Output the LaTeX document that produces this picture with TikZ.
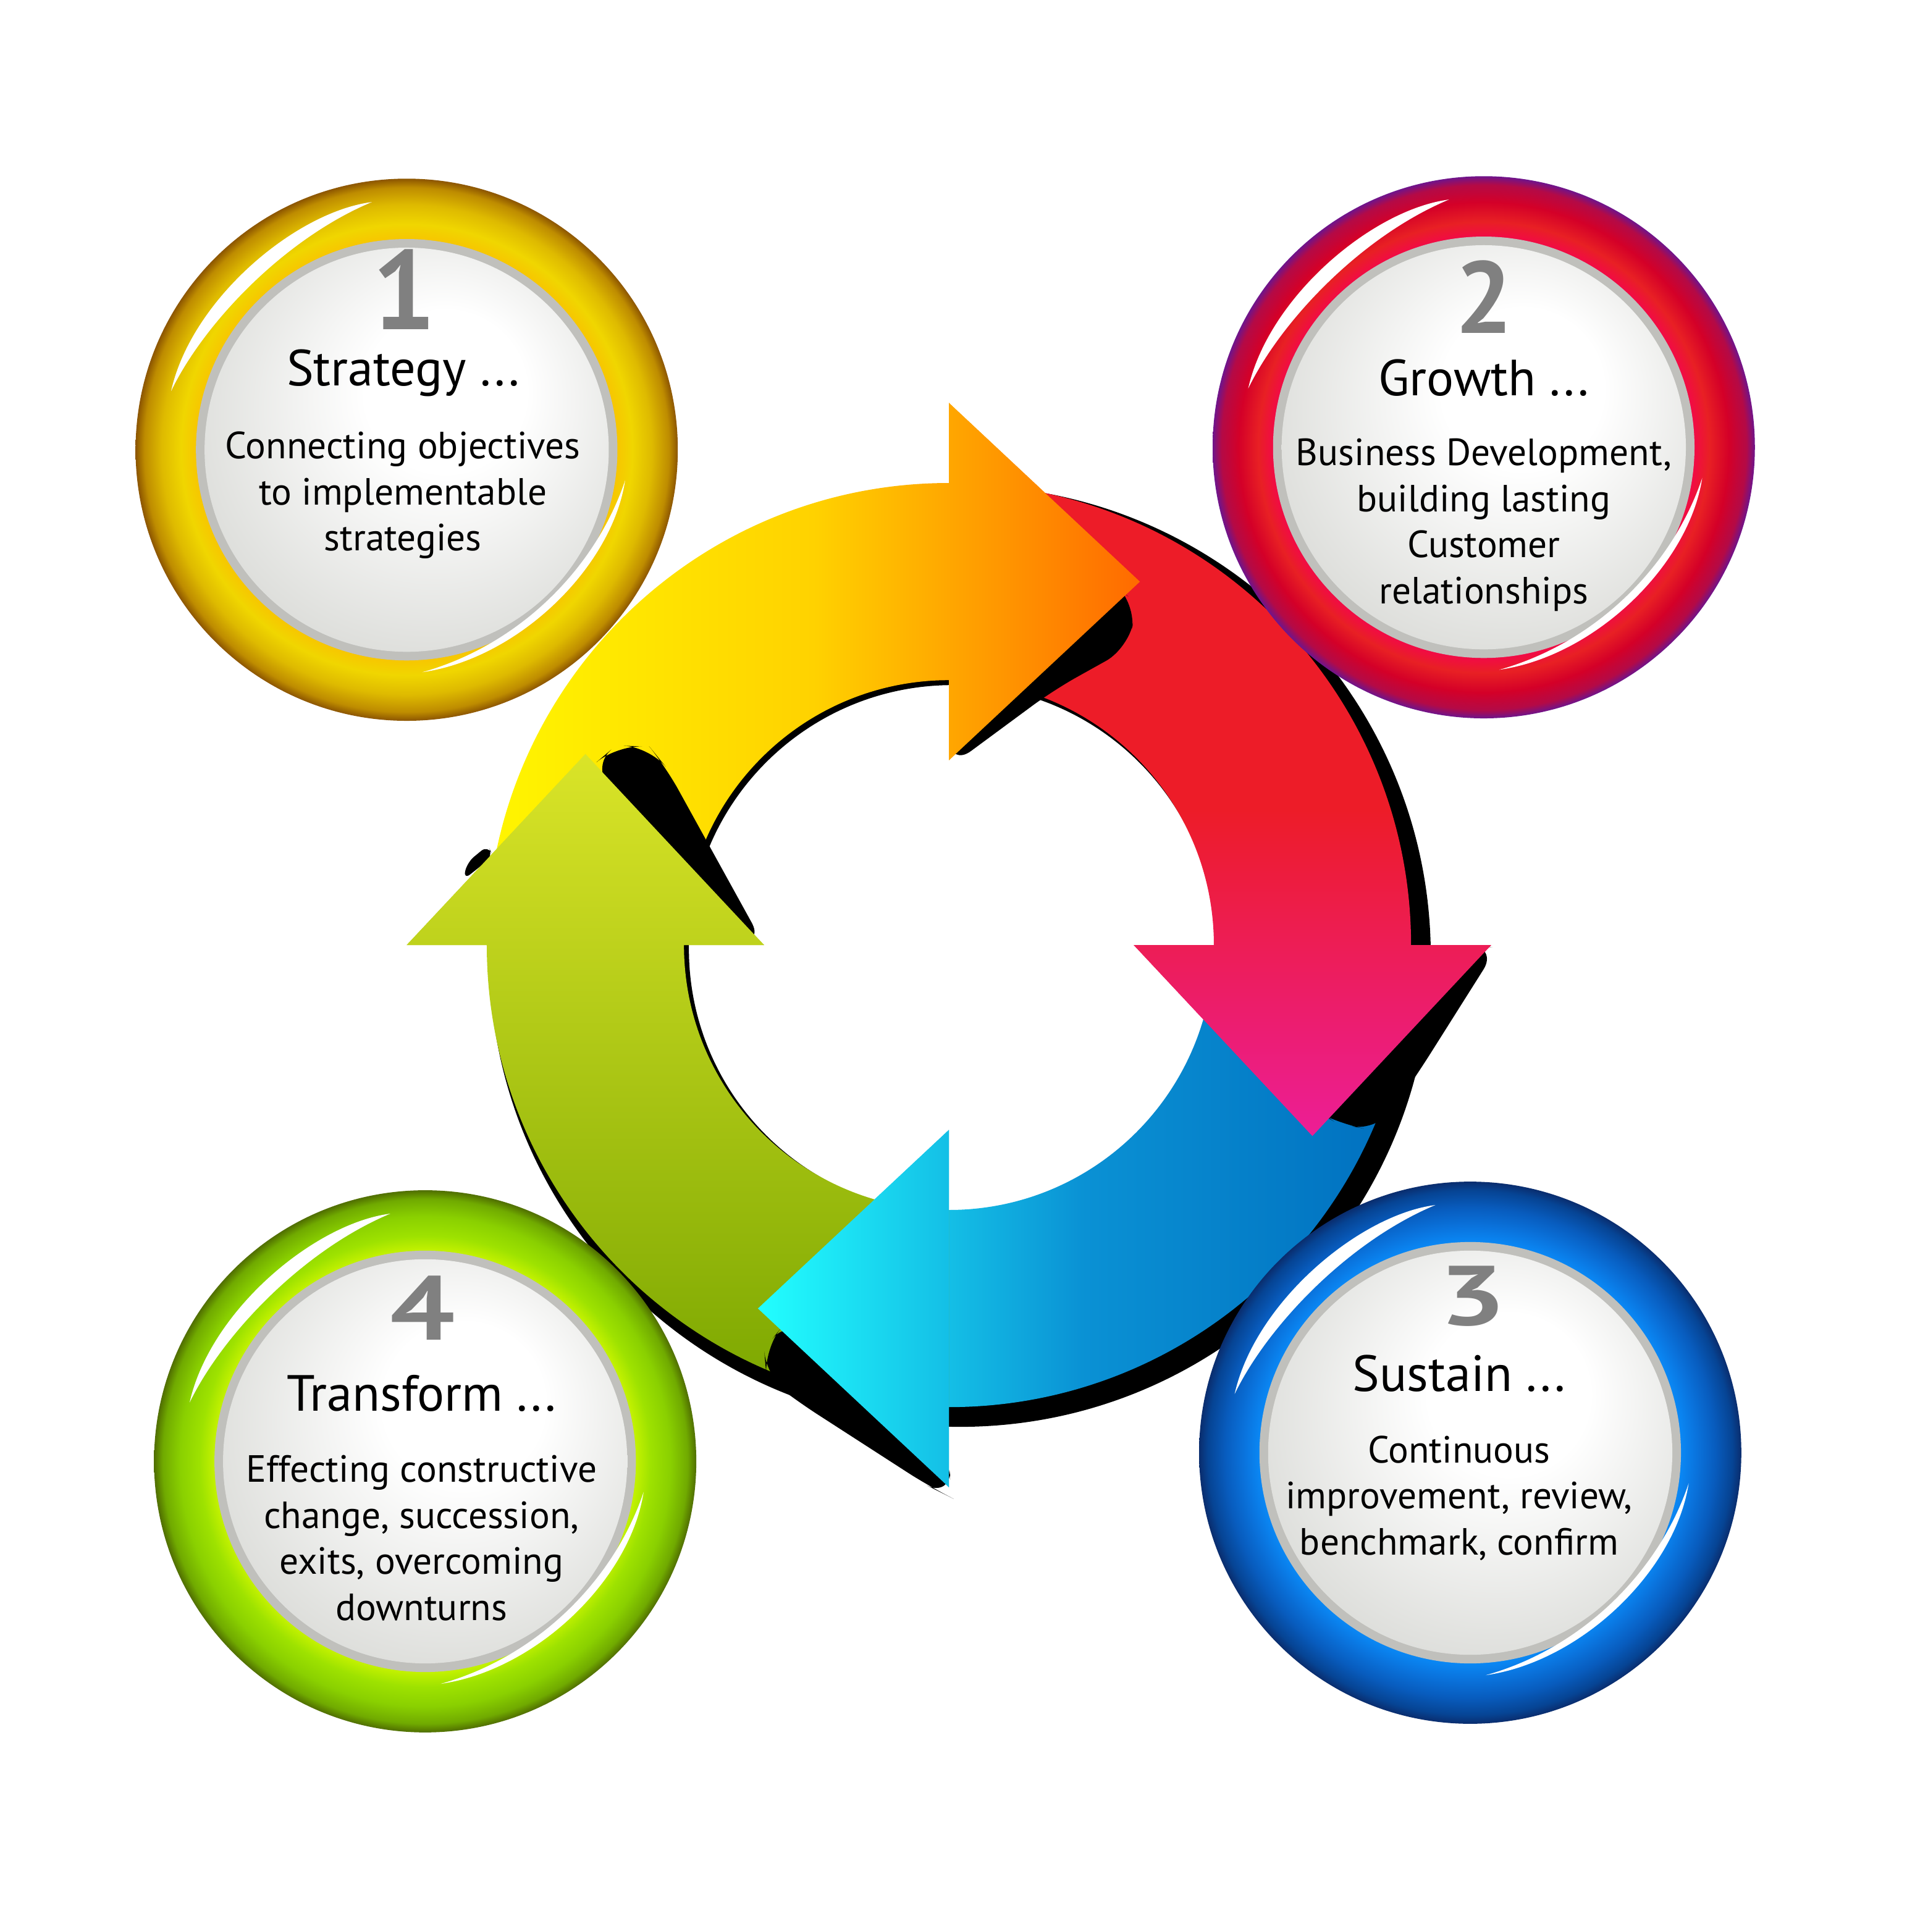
\documentclass[tikz,border=0pt]{standalone}
\usepackage{fontspec}
\setmainfont{PT Sans}
\usepackage{graphicx}

\definecolor{digitgray}{RGB}{128,128,128}
\definecolor{ringgray}{RGB}{192,192,188}
\definecolor{diskgray}{RGB}{214,215,211}
\definecolor{goldA}{RGB}{247,198,0}
\definecolor{goldB}{RGB}{240,214,0}
\definecolor{goldC}{RGB}{222,186,0}
\definecolor{goldD}{RGB}{190,140,0}
\definecolor{goldE}{RGB}{140,85,0}
\definecolor{redA}{RGB}{242,10,70}
\definecolor{redB}{RGB}{232,32,36}
\definecolor{redC}{RGB}{212,0,40}
\definecolor{redD}{RGB}{180,10,70}
\definecolor{redE}{RGB}{110,20,140}
\definecolor{blueA}{RGB}{10,136,245}
\definecolor{blueB}{RGB}{10,116,222}
\definecolor{blueC}{RGB}{8,92,190}
\definecolor{blueD}{RGB}{6,68,148}
\definecolor{blueE}{RGB}{10,45,110}
\definecolor{greenA}{RGB}{196,242,0}
\definecolor{greenB}{RGB}{158,226,0}
\definecolor{greenC}{RGB}{138,208,0}
\definecolor{greenD}{RGB}{112,170,0}
\definecolor{greenE}{RGB}{80,110,0}

\pgfdeclareradialshading{rimgold}{\pgfpoint{0bp}{0bp}}{color(0bp)=(goldA); color(19.4bp)=(goldA); color(20.8bp)=(goldB); color(22.6bp)=(goldC); color(24.2bp)=(goldD); color(25bp)=(goldE); color(50bp)=(goldE)}
\pgfdeclareradialshading{rimred}{\pgfpoint{0bp}{0bp}}{color(0bp)=(redA); color(19.4bp)=(redA); color(20.8bp)=(redB); color(22.6bp)=(redC); color(24.2bp)=(redD); color(25bp)=(redE); color(50bp)=(redE)}
\pgfdeclareradialshading{rimblue}{\pgfpoint{0bp}{0bp}}{color(0bp)=(blueA); color(19.4bp)=(blueA); color(20.8bp)=(blueB); color(22.6bp)=(blueC); color(24.2bp)=(blueD); color(25bp)=(blueE); color(50bp)=(blueE)}
\pgfdeclareradialshading{rimgreen}{\pgfpoint{0bp}{0bp}}{color(0bp)=(greenA); color(19.4bp)=(greenA); color(20.8bp)=(greenB); color(22.6bp)=(greenC); color(24.2bp)=(greenD); color(25bp)=(greenE); color(50bp)=(greenE)}
\pgfdeclareradialshading{diskshade}{\pgfpoint{6bp}{9bp}}{color(0bp)=(white); color(10bp)=(white); color(34bp)=(diskgray); color(50bp)=(diskgray)}

% one arrow of the cycle, head base at angle #1
\newcommand{\cyclearrow}[1]{(#1-90:375) arc[start angle=#1-90, end angle=#1, radius=375] -- (#1:215) arc[start angle=#1, end angle=#1-90, radius=215] -- cycle (#1:150) -- (#1:440) -- (#1+27.72:333.2) -- cycle}
\newcommand{\cyclehead}[1]{(#1:150) -- (#1:440) -- (#1+27.72:333.2) -- cycle}

\tikzset{
    badgetitle/.style={
        font=\fontsize{23.5}{28}\selectfont,
        anchor=base,
        inner sep=0pt
    },
    badgetext/.style={
        font=\fontsize{17.5}{21.3}\selectfont,
        align=center,
        anchor=base,
        inner sep=0pt
    },
    badgedigit/.style={
        text=digitgray,
        font=\bfseries,
        anchor=south,
        inner sep=0pt
    },
    yellowarrow/.style={
        left color={rgb,255:red,255;green,246;blue,0},
        right color={rgb,255:red,255;green,106;blue,0},
        middle color={rgb,255:red,255;green,210;blue,0}
    },
    redarrow/.style={
        top color={rgb,255:red,237;green,28;blue,40},
        bottom color={rgb,255:red,236;green,30;blue,150},
        middle color={rgb,255:red,237;green,28;blue,40}
    },
    bluearrow/.style={
        left color={rgb,255:red,34;green,255;blue,255},
        right color={rgb,255:red,0;green,110;blue,190},
        middle color={rgb,255:red,10;green,145;blue,212}
    },
    greenarrow/.style={
        top color={rgb,255:red,218;green,228;blue,40},
        bottom color={rgb,255:red,122;green,166;blue,0}
    }
}

\begin{document}
\begin{tikzpicture}[x=0.02cm, y=-0.02cm]
\fill[white] (0,0) rectangle (1564,1568);

% shadow under the cycle
\fill[black, even odd rule] (779,776) circle (382) (773,770) circle (214);

% arrows, bodies first
\begin{scope}[shift={(770,767)}]
    \shade[yellowarrow] \cyclearrow{270};
    \shade[redarrow] \cyclearrow{0};
    \shade[bluearrow] \cyclearrow{90};
    \shade[greenarrow] \cyclearrow{180};
\end{scope}

% shadows of the heads
\fill[black, rounded corners=12] (900,470) -- (922,490) -- (916,526) -- (855,560) -- (771,622) -- (771,560) -- cycle;
\fill[black, rounded corners=12] (1190,767) -- (1215,769) -- (1150,872) -- (1118,918) -- (1086,912) -- (1064,900) -- cycle;
\fill[black, rounded corners=12] (640,1070) -- (620,1095) -- (622,1118) -- (645,1136) -- (755,1207) -- (771,1215) -- (771,1180) -- cycle;
\fill[black, rounded corners=12] (480,622) -- (500,605) -- (527,606) -- (540,622) -- (620,767) -- (600,760) -- cycle;
\fill[black, rounded corners=4] (376,714) -- (379,700) -- (396,686) -- (400,695) -- cycle;

% heads on top
\begin{scope}[shift={(770,767)}]
    \foreach \a/\s in {270/yellowarrow, 0/redarrow, 90/bluearrow, 180/greenarrow} {
        \begin{scope}
            \clip \cyclehead{\a};
            \shade[\s] \cyclearrow{\a};
        \end{scope}
    }
\end{scope}

% badges
\foreach \cx/\cy/\rim in {330/365/rimgold, 1204/363/rimred, 1193/1179/rimblue, 345/1186/rimgreen} {
    \begin{scope}[shift={(\cx,\cy)}]
        \shade[shading=\rim] (0,0) circle (220);
        \fill[ringgray] (0,0) circle (171);
        \shade[shading=diskshade] (0,0) circle (164);
        \fill[white] (194:197) .. controls (215:213) and (245:213) .. (262:203) .. controls (240:198) and (212:194) .. cycle;
        \fill[white] (8:179) .. controls (30:192) and (62:192) .. (86:181) .. controls (60:183) and (32:181) .. cycle;
    \end{scope}
}

% texts (a multi-line node sits on the baseline of its last line)
\node[badgedigit] (digit1) at (328,268) {\resizebox{!}{37pt}{1}};
\node[badgetitle] (title1) at (327,313) {Strategy ...};
\node[badgetext] (desc1) at (327,447) {Connecting objectives\\to implementable\\strategies};

\node[badgedigit] (digit2) at (1204,271) {\resizebox{!}{33.6pt}{2}};
\node[badgetitle] (title2) at (1204,321) {Growth ...};
\node[badgetext] (desc2) at (1204,490) {Business Development,\\building lasting\\Customer\\relationships};

\node[badgedigit] (digit3) at (1195,1077) {\resizebox{31pt}{27.3pt}{3}};
\node[badgetitle] (title3) at (1184,1129) {Sustain ...};
\node[badgetext] (desc3) at (1184,1262) {Continuous\\improvement, review,\\benchmark, confirm};

\node[badgedigit] (digit4) at (343,1088) {\resizebox{30pt}{29.6pt}{4}};
\node[badgetitle] (title4) at (342,1145) {Transform ...};
\node[badgetext] (desc4) at (342,1315) {Effecting constructive\\change, succession,\\exits, overcoming\\downturns};
\end{tikzpicture}
\end{document}
